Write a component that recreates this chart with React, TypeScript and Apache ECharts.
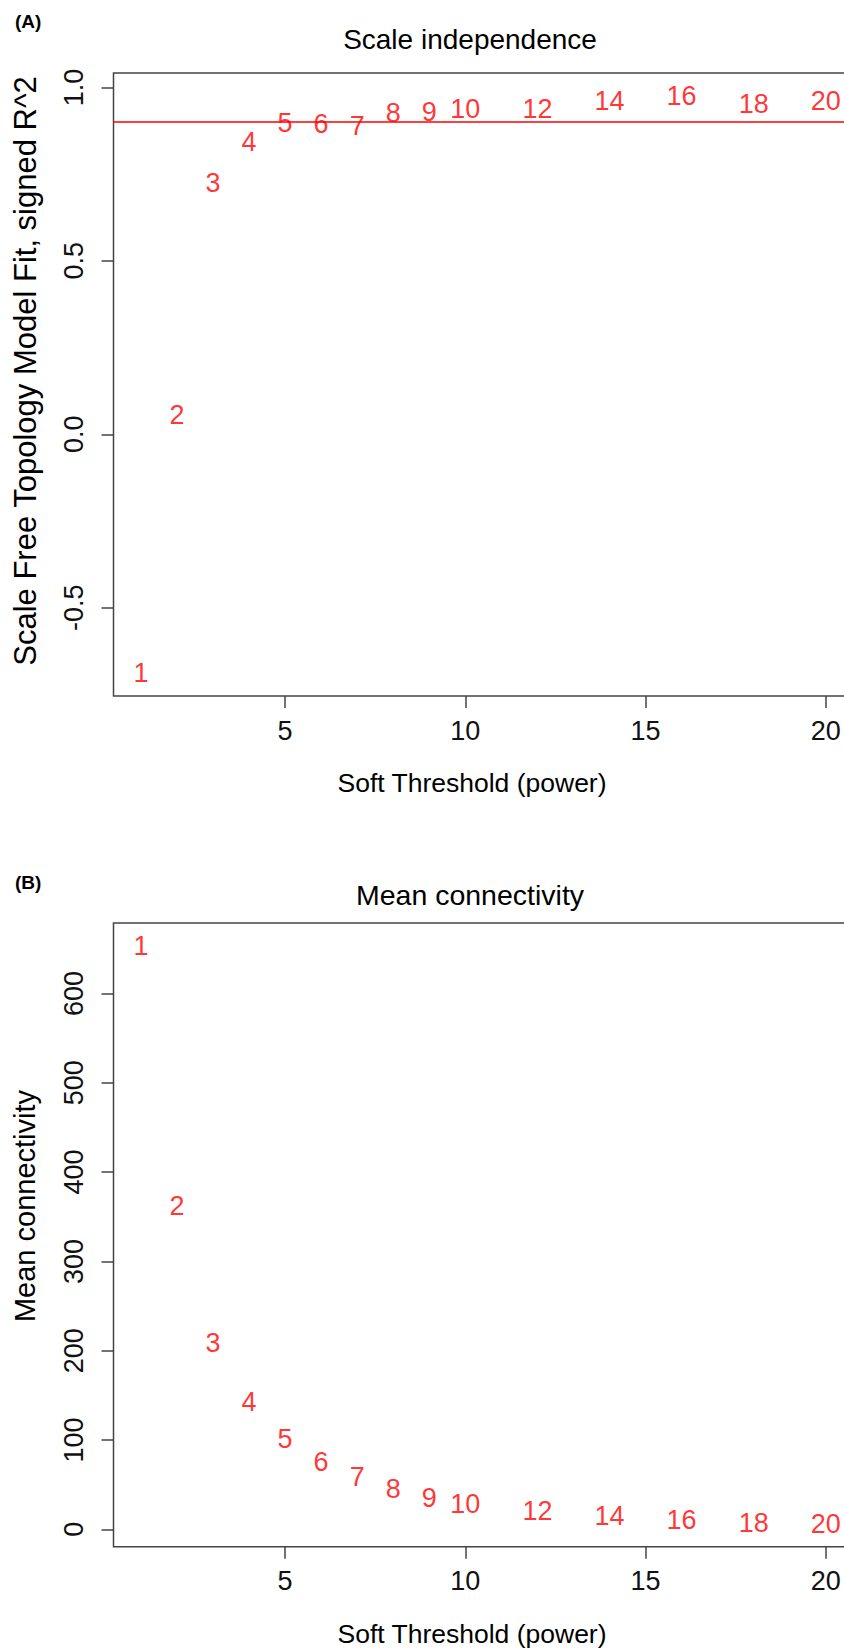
import React, { useEffect, useRef } from "react";
import * as echarts from "echarts";

// Soft-thresholding powers (x) and results
const powers = [1, 2, 3, 4, 5, 6, 7, 8, 9, 10, 12, 14, 16, 18, 20];
const scaleFitR2 = [-0.688, 0.056, 0.723, 0.843, 0.896, 0.894, 0.889, 0.927, 0.93, 0.939, 0.939, 0.96, 0.975, 0.952, 0.96];
const meanConnectivity = [653, 362, 209, 142, 101, 75, 58.5, 44.7, 35.4, 28.3, 20.1, 14.9, 10.8, 7.0, 6.4];
const xTicks = [5, 10, 15, 20];
const yTicksA = [-0.5, 0, 0.5, 1];
const yTicksB = [0, 100, 200, 300, 400, 500, 600];
const rsqThreshold = 0.9;

const FONT = "'Liberation Sans', Arial, Helvetica, sans-serif";
const AXIS_COLOR = "#444";

// R's default axis extent: data range padded by 4% at each end
function rRange(vals: number[]): [number, number] {
  const mn = Math.min(...vals);
  const mx = Math.max(...vals);
  const d = (mx - mn) * 0.04;
  return [mn - d, mx + d];
}

export default function App() {
  const ref = useRef<HTMLDivElement>(null);

  useEffect(() => {
    if (!ref.current) return;
    const chart = echarts.init(ref.current, null, { renderer: "svg" });
    const xr = rRange(powers);
    const yrA = rRange(scaleFitR2);
    const yrB = rRange(meanConnectivity);

    const xAxisBase = (gridIndex: number) => ({
      type: "value" as const,
      gridIndex,
      min: xr[0],
      max: xr[1],
      axisLine: { show: false, onZero: false },
      splitLine: { show: false },
      axisTick: {
        show: true,
        length: 12,
        lineStyle: { color: AXIS_COLOR, width: 1.5 },
        customValues: xTicks,
      },
      axisLabel: {
        customValues: xTicks,
        margin: 21,
        fontSize: 27,
        color: "#111",
        fontFamily: FONT,
      },
    });

    const yAxisBase = (gridIndex: number, range: [number, number], ticks: number[], fmt: (v: number) => string) => ({
      type: "value" as const,
      gridIndex,
      min: range[0],
      max: range[1],
      axisLine: { show: false, onZero: false },
      splitLine: { show: false },
      axisTick: {
        show: true,
        length: 12,
        lineStyle: { color: AXIS_COLOR, width: 1.5 },
        customValues: ticks,
      },
      axisLabel: {
        customValues: ticks,
        rotate: 90,
        margin: 26,
        fontSize: 27,
        color: "#111",
        fontFamily: FONT,
        formatter: fmt,
      },
    });

    const labelStyle = {
      show: true,
      position: "inside" as const,
      formatter: (p: any) => String(p.value[0]),
      color: "#ff0000",
      fontSize: 27,
      fontFamily: FONT,
    };

    const gridBox = {
      show: true,
      borderColor: AXIS_COLOR,
      borderWidth: 1.5,
      backgroundColor: "transparent",
      containLabel: false,
      outerBoundsMode: "none",
    };

    const centered = { align: "center", verticalAlign: "middle", textAlign: "center", textVerticalAlign: "middle" };
    const leftMid = { align: "left", verticalAlign: "middle", textAlign: "left", textVerticalAlign: "middle" };

    chart.setOption({
      animation: false,
      backgroundColor: "#ffffff",
      grid: [
        { left: 113.5, top: 73, width: 739.7, height: 623, ...gridBox },
        { left: 113.5, top: 923, width: 739.7, height: 623.7, ...gridBox },
      ],
      xAxis: [xAxisBase(0), xAxisBase(1)],
      yAxis: [
        yAxisBase(0, yrA, yTicksA, (v: number) => v.toFixed(1)),
        yAxisBase(1, yrB, yTicksB, (v: number) => String(Math.round(v))),
      ],
      series: [
        {
          type: "scatter",
          xAxisIndex: 0,
          yAxisIndex: 0,
          symbolSize: 1,
          itemStyle: { color: "rgba(0,0,0,0)" },
          data: powers.map((p, i) => [p, scaleFitR2[i]]),
          label: labelStyle,
          markLine: {
            silent: true,
            symbol: ["none", "none"],
            label: { show: false },
            lineStyle: { color: "#ff0000", width: 1.5, type: "solid" },
            data: [{ yAxis: rsqThreshold }],
          },
        },
        {
          type: "scatter",
          xAxisIndex: 1,
          yAxisIndex: 1,
          symbolSize: 1,
          itemStyle: { color: "rgba(0,0,0,0)" },
          data: powers.map((p, i) => [p, meanConnectivity[i]]),
          label: labelStyle,
        },
      ],
      graphic: [
        { type: "text", x: 15, y: 21, style: { text: "(A)", fontSize: 19, fontWeight: "bold", fontFamily: FONT, fill: "#000", ...leftMid } },
        { type: "text", x: 15, y: 882, style: { text: "(B)", fontSize: 19, fontWeight: "bold", fontFamily: FONT, fill: "#000", ...leftMid } },
        { type: "text", x: 470, y: 39, style: { text: "Scale independence", fontSize: 28, fontFamily: FONT, fill: "#000", ...centered } },
        { type: "text", x: 470, y: 895, style: { text: "Mean connectivity", fontSize: 28.5, fontFamily: FONT, fill: "#000", ...centered } },
        { type: "text", x: 472, y: 783, style: { text: "Soft Threshold (power)", fontSize: 26.5, fontFamily: FONT, fill: "#000", ...centered } },
        { type: "text", x: 472, y: 1634, style: { text: "Soft Threshold (power)", fontSize: 26.5, fontFamily: FONT, fill: "#000", ...centered } },
        { type: "text", x: 25, y: 371, rotation: Math.PI / 2, style: { text: "Scale Free Topology Model Fit, signed R^2", fontSize: 31, fontFamily: FONT, fill: "#000", ...centered } },
        { type: "text", x: 25, y: 1206, rotation: Math.PI / 2, style: { text: "Mean connectivity", fontSize: 29, fontFamily: FONT, fill: "#000", ...centered } },
      ],
    });

    return () => chart.dispose();
  }, []);

  return (
    <div
      ref={ref}
      style={{ position: "absolute", left: 0, top: 0, width: 844, height: 1651, overflow: "hidden" }}
    />
  );
}
